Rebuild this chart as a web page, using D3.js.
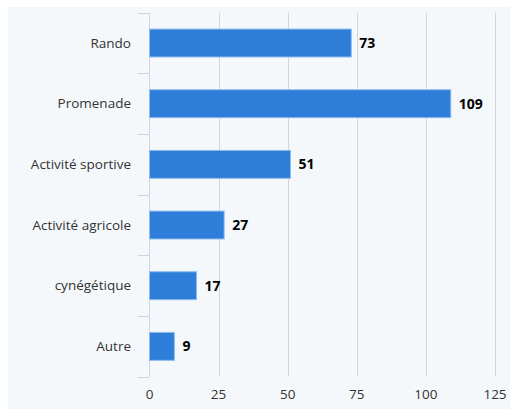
<!DOCTYPE html>
<html><head><meta charset="utf-8">
<script src="https://cdn.jsdelivr.net/npm/d3@7"></script>
<style>body{margin:0;background:#fff;}svg{display:block;}</style>
</head><body>
<svg id="chart" width="510" height="410"></svg>
<script>
const categories = ["Rando","Promenade","Activité sportive","Activité agricole","cynégétique","Autre"];
const values = [73,109,51,27,17,9];
const xTicks = [0,25,50,75,100,125];

const svg = d3.select("#chart");
const font = "'Open Sans', 'Noto Sans', sans-serif";
svg.append("rect").attr("x",8).attr("y",7).attr("width",502).attr("height",402).attr("fill","#f5f8fb");

const x = d3.scaleLinear().domain([0,125]).range([149.5,495]);
const y = d3.scaleBand().domain(categories).range([12.7,376.7]).paddingInner(0.54).paddingOuter(0.27);

const grid = svg.append("g");
grid.selectAll("line").data(xTicks.slice(1)).join("line")
  .attr("x1",d=>Math.round(x(d))+0.5).attr("x2",d=>Math.round(x(d))+0.5)
  .attr("y1",12.7).attr("y2",376.7).attr("stroke","#d6d6d6").attr("stroke-width",1);

// y axis line and ticks
const tickYs = d3.range(categories.length+1).map(i=>12.7 + i*(364/categories.length));
svg.append("line").attr("x1",149.5).attr("x2",149.5).attr("y1",12.7).attr("y2",376.7)
  .attr("stroke","#ccd6eb").attr("stroke-width",1);
svg.selectAll(".ytick").data(tickYs).join("line").attr("class","ytick")
  .attr("x1",138).attr("x2",149.5).attr("y1",d=>Math.round(d)+0.5).attr("y2",d=>Math.round(d)+0.5)
  .attr("stroke","#ccd6eb").attr("stroke-width",1);

// bars
svg.selectAll(".bar").data(values).join("rect").attr("class","bar")
  .attr("x",x(0)).attr("y",(d,i)=>y(categories[i]))
  .attr("width",d=>x(d)-x(0)).attr("height",y.bandwidth())
  .attr("fill","#2e7dd8").attr("stroke","#8cbbed").attr("stroke-width",1);

// value labels
svg.selectAll(".val").data(values).join("text").attr("class","val")
  .attr("x",d=>x(d)+8).attr("y",(d,i)=>y(categories[i])+y.bandwidth()/2)
  .attr("dy","0.35em").attr("font-family",font).attr("font-size",14).attr("font-weight","bold")
  .attr("fill","#000").text(d=>d);

// category labels
svg.selectAll(".cat").data(categories).join("text").attr("class","cat")
  .attr("x",131).attr("y",d=>y(d)+y.bandwidth()/2).attr("dy","0.35em")
  .attr("text-anchor","end").attr("font-family",font).attr("font-size",13.5).attr("fill","#333")
  .text(d=>d);

// x tick labels
svg.selectAll(".xt").data(xTicks).join("text").attr("class","xt")
  .attr("x",d=>x(d)).attr("y",394).attr("dy","0.35em").attr("text-anchor","middle")
  .attr("font-family",font).attr("font-size",13.5).attr("fill","#333").text(d=>d);
</script>
</body></html>
